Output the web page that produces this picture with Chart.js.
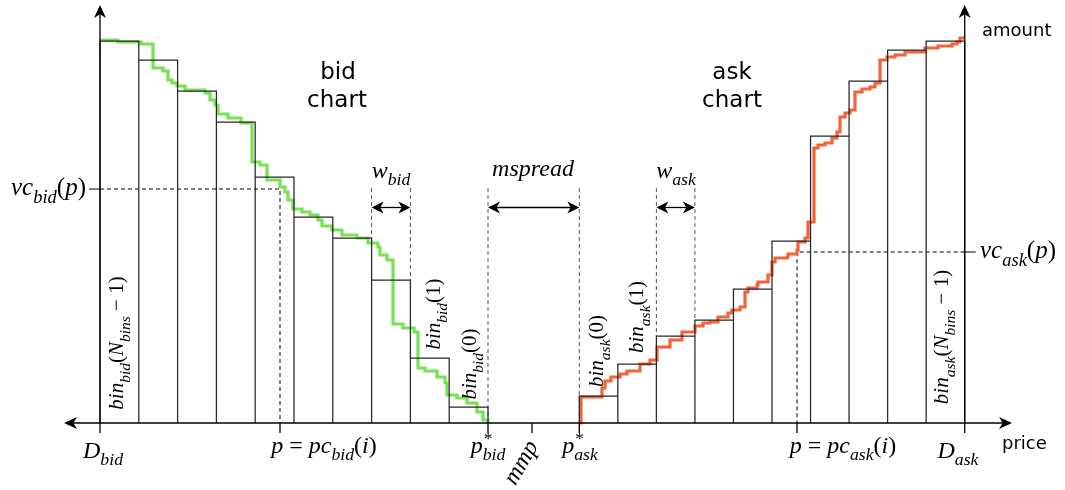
<!DOCTYPE html>
<html>
<head>
<meta charset="utf-8">
<script src="https://cdn.jsdelivr.net/npm/chart.js@4.4.1/dist/chart.umd.min.js"></script>
<style>
  html, body { margin: 0; padding: 0; background: #fff; }
</style>
</head>
<body>
<canvas id="book" width="1065" height="490"></canvas>
<script>
// ---- order book data (price / amount units) ----
const bidBest = 488;          // p*_bid
const askBest = 579.3;        // p*_ask
const midPrice = 532;         // mmp
const bidBinWidth = 38.8;     // w_bid
const askBinWidth = 38.54;    // w_ask

// cumulative amount per bin, bin 0 (next to the best price) .. bin N-1
const bidBinAmounts = [16, 65, 143, 185, 206, 246, 301, 332, 363, 382];
const askBinAmounts = [27, 59, 87, 103, 134, 182, 287, 342, 373, 382];

// cumulative bid volume curve (step points)
const bidCurvePrice = [100, 118, 141, 153, 163, 168, 172, 177, 185, 205,
  210, 215, 218, 228, 241, 252, 260, 267, 280, 285,
  288, 293, 302, 310, 318, 322, 332, 342, 357, 368,
  378, 380, 387, 393, 403, 414, 418, 425, 437, 445,
  447, 457, 467, 477, 483, 488];
const bidCurveAmount = [383, 381, 379, 355, 352, 343, 340, 337, 333, 330,
  323, 318, 309, 305, 300, 261, 258, 243, 236, 231,
  223, 214, 211, 208, 203, 197, 193, 188, 185, 180,
  176, 168, 163, 99, 95, 91, 55, 52, 46, 40,
  28, 25, 20, 11, 3, 0];

// cumulative ask volume curve (step points)
const askCurvePrice = [579.3, 581, 602, 605, 611, 620, 627, 640, 650, 657,
  670, 682, 695, 703, 710, 718, 728, 732, 740, 745,
  748, 757, 758, 768, 772, 775, 787, 788, 797, 798,
  805, 808, 814, 818, 825, 832, 837, 840, 845, 850,
  855, 862, 870, 875, 880, 887, 895, 905, 925, 938,
  952, 957, 960, 964.7];
const askCurveAmount = [0, 26, 35, 42, 46, 49, 52, 59, 63, 76,
  83, 91, 97, 100, 101, 106, 110, 113, 116, 131,
  135, 138, 141, 148, 161, 165, 166, 169, 173, 181,
  185, 201, 275, 278, 280, 285, 291, 306, 310, 313,
  331, 334, 336, 340, 363, 366, 368, 371, 375, 377,
  379, 381, 385, 385];

// sample price p on each side and the cumulative volume read there
const pcBid = 280, vcBid = 234;
const pcAsk = 797, vcAsk = 171;

// axis extents
const priceAxisRange = [64, 1012];
const amountAxisTop = 418;
const guideTop = 235;     // top of the width / spread guides
const arrowLevel = 215.5; // level of the double arrows

const nBins = bidBinAmounts.length;
const Dbid = bidBest - nBins * bidBinWidth;
const Dask = askBest + nBins * askBinWidth;

// ---- datasets built from the arrays above ----
function binOutlines(best, width, amounts, dir) {
  const pts = [];
  amounts.forEach((a, i) => {
    const x0 = best + dir * i * width, x1 = best + dir * (i + 1) * width;
    pts.push({x: x0, y: 0}, {x: x0, y: a}, {x: x1, y: a}, {x: x1, y: 0}, {x: x1, y: null});
  });
  return pts;
}
const zip = (xs, ys) => xs.map((x, i) => ({x, y: ys[i]}));

function edgeHeight(amounts, k) {
  const a = k > 0 ? amounts[k - 1] : 0, b = k < amounts.length ? amounts[k] : 0;
  return Math.max(a, b);
}
const guideLines = [
  {x: bidBest - 3 * bidBinWidth, y: guideTop}, {x: bidBest - 3 * bidBinWidth, y: edgeHeight(bidBinAmounts, 3)}, {x: 0, y: null},
  {x: bidBest - 2 * bidBinWidth, y: guideTop}, {x: bidBest - 2 * bidBinWidth, y: edgeHeight(bidBinAmounts, 2)}, {x: 0, y: null},
  {x: bidBest, y: guideTop}, {x: bidBest, y: 0}, {x: 0, y: null},
  {x: askBest, y: guideTop}, {x: askBest, y: 0}, {x: 0, y: null},
  {x: askBest + 2 * askBinWidth, y: guideTop}, {x: askBest + 2 * askBinWidth, y: edgeHeight(askBinAmounts, 2)}, {x: 0, y: null},
  {x: askBest + 3 * askBinWidth, y: guideTop}, {x: askBest + 3 * askBinWidth, y: edgeHeight(askBinAmounts, 3)}
];

const lineBase = {type: 'line', pointRadius: 0, fill: false, spanGaps: false, tension: 0};

// ---- math-style text ----
const SERIF = "'Liberation Serif', 'DejaVu Serif', serif";
const SANS = "'DejaVu Sans', 'Verdana', sans-serif";
function layoutMath(ctx, parts, size) {
  const runs = []; let x = 0; const ss = size * 0.74;
  for (const [t, k, t2] of parts) {
    if (k === 'ss') {
      const fs = `${ss}px ${SERIF}`, fb = `italic ${ss}px ${SERIF}`;
      ctx.font = fs; const w1 = ctx.measureText(t).width;
      ctx.font = fb; const w2 = ctx.measureText(t2).width;
      runs.push({t, f: fs, dx: x + 1, dy: -size * 0.38});
      runs.push({t: t2, f: fb, dx: x, dy: size * 0.3});
      x += Math.max(w1, w2); continue;
    }
    let f, dy = 0;
    if (k === 'i') f = `italic ${size}px ${SERIF}`;
    else if (k === 'r') f = `${size}px ${SERIF}`;
    else { f = `italic ${ss}px ${SERIF}`; dy = size * 0.3; }
    ctx.font = f;
    runs.push({t, f, dx: x, dy});
    x += ctx.measureText(t).width;
  }
  return {runs, width: x};
}
function drawMath(ctx, parts, x, y, size, align, rot) {
  const {runs, width} = layoutMath(ctx, parts, size);
  ctx.save();
  ctx.translate(x, y);
  ctx.rotate(rot || 0);
  const ox = align === 'center' ? -width / 2 : align === 'right' ? -width : 0;
  ctx.textBaseline = 'alphabetic';
  ctx.fillStyle = '#000';
  const oy = size * 0.25;
  for (const r of runs) { ctx.font = r.f; ctx.fillText(r.t, ox + r.dx, oy + r.dy); }
  ctx.restore();
}

function arrowHead(ctx, x, y, ang, len, half) {
  ctx.save();
  ctx.translate(x, y);
  ctx.rotate(ang);
  ctx.beginPath();
  ctx.moveTo(0, 0);
  ctx.lineTo(-len, -half);
  ctx.lineTo(-len * 0.72, 0);
  ctx.lineTo(-len, half);
  ctx.closePath();
  ctx.fill();
  ctx.restore();
}

const mathLabels = [
  {p: [['vc', 'i'], ['bid', 's'], ['(', 'r'], ['p', 'i'], [')', 'r']], x: 86, y: vcBid, a: 'right', s: 25},
  {p: [['vc', 'i'], ['ask', 's'], ['(', 'r'], ['p', 'i'], [')', 'r']], x: 980, y: vcAsk, a: 'left', s: 25},
  {p: [['w', 'i'], ['bid', 's']], x: 391, y: 251, a: 'center'},
  {p: [['mspread', 'i']], x: 533, y: 253, a: 'center'},
  {p: [['w', 'i'], ['ask', 's']], x: 676, y: 251, a: 'center'},
  {p: [['D', 'i'], ['bid', 's']], x: 103, y: -29, a: 'center'},
  {p: [['D', 'i'], ['ask', 's']], x: 958, y: -29, a: 'center'},
  {p: [['p', 'i'], [' = ', 'r'], ['pc', 'i'], ['bid', 's'], ['(', 'r'], ['i', 'i'], [')', 'r']], x: 324, y: -24, a: 'center'},
  {p: [['p', 'i'], [' = ', 'r'], ['pc', 'i'], ['ask', 's'], ['(', 'r'], ['i', 'i'], [')', 'r']], x: 843, y: -24, a: 'center'},
  {p: [['p', 'i'], ['*', 'ss', 'bid']], x: 488, y: -24, a: 'center'},
  {p: [['p', 'i'], ['*', 'ss', 'ask']], x: 580, y: -24, a: 'center'},
  {p: [['mmp', 'i']], x: 522, y: -40, a: 'center', r: -Math.PI / 3},
  {p: [['bin', 'i'], ['bid', 's'], ['(', 'r'], ['N', 'i'], ['bins', 's'], [' − 1)', 'r']], x: 118, y: 80, a: 'center', r: -Math.PI / 2, s: 21},
  {p: [['bin', 'i'], ['bid', 's'], ['(1)', 'r']], x: 435, y: 109, a: 'center', r: -Math.PI / 2, s: 21},
  {p: [['bin', 'i'], ['bid', 's'], ['(0)', 'r']], x: 471, y: 59, a: 'center', r: -Math.PI / 2, s: 21},
  {p: [['bin', 'i'], ['ask', 's'], ['(0)', 'r']], x: 598, y: 72, a: 'center', r: -Math.PI / 2, s: 21},
  {p: [['bin', 'i'], ['ask', 's'], ['(1)', 'r']], x: 638, y: 106, a: 'center', r: -Math.PI / 2, s: 21},
  {p: [['bin', 'i'], ['ask', 's'], ['(', 'r'], ['N', 'i'], ['bins', 's'], [' − 1)', 'r']], x: 943, y: 86, a: 'center', r: -Math.PI / 2, s: 21}
];
const sansLabels = [
  {t: 'bid', x: 338, y: 350, a: 'center'},
  {t: 'chart', x: 337, y: 322, a: 'center'},
  {t: 'ask', x: 732, y: 350, a: 'center'},
  {t: 'chart', x: 732, y: 322, a: 'center'}
];

const decorations = {
  id: 'decorations',
  afterDatasetsDraw(chart) {
    const ctx = chart.ctx, X = chart.scales.x, Y = chart.scales.y;
    const px = v => X.getPixelForValue(v), py = v => Y.getPixelForValue(v);
    const y0 = py(0);
    ctx.save();
    ctx.strokeStyle = '#000';
    ctx.fillStyle = '#000';
    ctx.lineWidth = 1.3;

    // price axis with arrows at both ends
    const xl = px(priceAxisRange[0]), xr = px(priceAxisRange[1]);
    ctx.beginPath();
    ctx.moveTo(xl + 6, y0); ctx.lineTo(xr - 6, y0);
    ctx.stroke();
    arrowHead(ctx, xl, y0, Math.PI, 13, 6);
    arrowHead(ctx, xr, y0, 0, 13, 6);

    // amount axes on both sides
    const yt = py(amountAxisTop);
    [Dbid, Dask].forEach(d => {
      const x = px(d);
      ctx.beginPath(); ctx.moveTo(x, y0); ctx.lineTo(x, yt + 6); ctx.stroke();
      arrowHead(ctx, x, yt, -Math.PI / 2, 13, 6);
    });

    // ticks under the price axis
    [Dbid, pcBid, bidBest, midPrice, askBest, pcAsk, Dask].forEach(v => {
      const x = px(v);
      ctx.beginPath(); ctx.moveTo(x, y0); ctx.lineTo(x, y0 + 10); ctx.stroke();
    });
    // ticks on the amount axes
    ctx.lineWidth = 1.2;
    ctx.beginPath();
    ctx.moveTo(px(Dbid) - 11, py(vcBid)); ctx.lineTo(px(Dbid), py(vcBid));
    ctx.moveTo(px(Dask), py(vcAsk)); ctx.lineTo(px(Dask) + 11, py(vcAsk));
    ctx.stroke();

    // double arrows for bin widths and spread
    const ay = py(arrowLevel);
    ctx.lineWidth = 1.3;
    [[bidBest - 3 * bidBinWidth, bidBest - 2 * bidBinWidth],
     [bidBest, askBest],
     [askBest + 2 * askBinWidth, askBest + 3 * askBinWidth]].forEach(([a, b]) => {
      const xa = px(a), xb = px(b);
      ctx.beginPath(); ctx.moveTo(xa + 6, ay); ctx.lineTo(xb - 6, ay); ctx.stroke();
      arrowHead(ctx, xa, ay, Math.PI, 12, 6);
      arrowHead(ctx, xb, ay, 0, 12, 6);
    });

    // text
    ctx.textBaseline = 'middle';
    ctx.font = `23px ${SANS}`;
    sansLabels.forEach(l => { ctx.textAlign = l.a; ctx.fillText(l.t, px(l.x), py(l.y)); });
    ctx.font = `18px ${SANS}`;
    ctx.textAlign = 'left';
    ctx.fillText('amount', px(982), py(392));
    ctx.fillText('price', px(1002), py(-21));
    mathLabels.forEach(l => drawMath(ctx, l.p, px(l.x), py(l.y), l.s || 24, l.a, l.r));
    ctx.restore();
  }
};

new Chart(document.getElementById('book'), {
  type: 'scatter',
  data: {
    datasets: [
      Object.assign({}, lineBase, {label: 'bid bins', data: binOutlines(bidBest, bidBinWidth, bidBinAmounts, -1),
        borderColor: '#262626', borderWidth: 1.25}),
      Object.assign({}, lineBase, {label: 'ask bins', data: binOutlines(askBest, askBinWidth, askBinAmounts, 1),
        borderColor: '#262626', borderWidth: 1.25}),
      Object.assign({}, lineBase, {label: 'bid volume', data: zip(bidCurvePrice, bidCurveAmount),
        stepped: 'before', borderColor: '#76e254', borderWidth: 3.2}),
      Object.assign({}, lineBase, {label: 'ask volume', data: zip(askCurvePrice, askCurveAmount),
        stepped: 'before', borderColor: '#f2633a', borderWidth: 3.2}),
      Object.assign({}, lineBase, {label: 'vc bid', data: [{x: Dbid, y: vcBid}, {x: pcBid, y: vcBid}, {x: pcBid, y: 0}],
        borderColor: '#000', borderWidth: 1, borderDash: [4, 3]}),
      Object.assign({}, lineBase, {label: 'vc ask', data: [{x: Dask, y: vcAsk}, {x: pcAsk, y: vcAsk}, {x: pcAsk, y: 0}],
        borderColor: '#000', borderWidth: 1, borderDash: [4, 3]}),
      Object.assign({}, lineBase, {label: 'guides', data: guideLines,
        borderColor: '#555', borderWidth: 1, borderDash: [4, 3]})
    ]
  },
  options: {
    responsive: false,
    animation: false,
    events: [],
    layout: {padding: 0},
    scales: {
      x: {type: 'linear', min: 0, max: 1065, display: false},
      y: {type: 'linear', min: -67, max: 423, display: false}
    },
    plugins: {legend: {display: false}, tooltip: {enabled: false}}
  },
  plugins: [decorations]
});
</script>
</body>
</html>
